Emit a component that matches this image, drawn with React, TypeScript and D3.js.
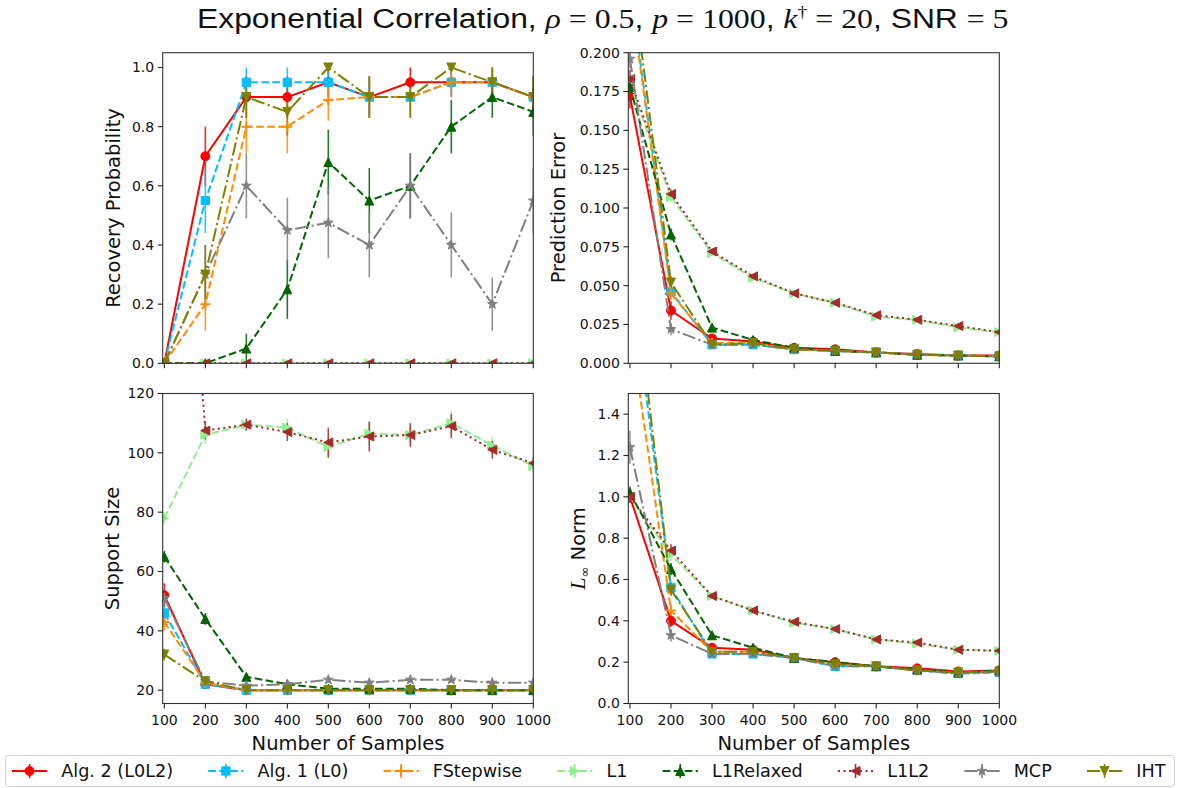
import React, { useEffect, useRef } from "react";
import * as d3 from "d3";

// ---------------- DATA ----------------
const samples = [100, 200, 300, 400, 500, 600, 700, 800, 900, 1000];
const methodNames = ["Alg. 2 (L0L2)", "Alg. 1 (L0)", "FStepwise", "L1", "L1Relaxed", "L1L2", "MCP", "IHT"];
const methodColors = ["#ff0000", "#00bfff", "#ff8c00", "#90ee90", "#006400", "#a52a2a", "#808080", "#808000"];
const methodDash = ["solid", "dashed", "dashed", "dashed", "dashed", "dotted", "dashdot", "dashdot"];
const methodMarkers = ["circle", "square", "plus", "triRight", "triUp", "triLeft", "star", "triDown"];

// Recovery probability
const recL0L2 = [0, 0.70, 0.90, 0.90, 0.95, 0.90, 0.95, 0.95, 0.95, 0.90];
const recL0 = [0, 0.55, 0.95, 0.95, 0.95, 0.90, 0.90, 0.95, 0.95, 0.90];
const recFS = [0, 0.20, 0.80, 0.80, 0.89, 0.90, 0.90, 0.95, 0.95, 0.90];
const recL1 = [0, 0, 0, 0, 0, 0, 0, 0, 0, 0];
const recL1R = [0, 0, 0.05, 0.25, 0.68, 0.55, 0.60, 0.80, 0.90, 0.85];
const recL1L2 = [0, 0, 0, 0, 0, 0, 0, 0, 0, 0];
const recMCP = [0, 0.30, 0.60, 0.45, 0.475, 0.40, 0.60, 0.40, 0.20, 0.55];
const recIHT = [0, 0.30, 0.90, 0.85, 1.00, 0.90, 0.90, 1.00, 0.95, 0.90];
const recErrL0L2 = [0, 0.10, 0.07, 0.07, 0.05, 0.07, 0.05, 0.05, 0.05, 0.07];
const recErrL0 = [0, 0.11, 0.05, 0.05, 0.05, 0.07, 0.07, 0.05, 0.05, 0.07];
const recErrFS = [0, 0.09, 0.09, 0.09, 0.07, 0.07, 0.07, 0.05, 0.05, 0.07];
const recErrL1 = [0, 0, 0, 0, 0, 0, 0, 0, 0, 0];
const recErrL1R = [0, 0, 0.05, 0.10, 0.11, 0.11, 0.11, 0.09, 0.07, 0.08];
const recErrL1L2 = [0, 0, 0, 0, 0, 0, 0, 0, 0, 0];
const recErrMCP = [0, 0.10, 0.11, 0.11, 0.12, 0.11, 0.11, 0.11, 0.09, 0.11];
const recErrIHT = [0, 0.10, 0.07, 0.08, 0, 0.07, 0.07, 0, 0.05, 0.07];

// Prediction error
const peL0L2 = [0.172, 0.034, 0.016, 0.014, 0.010, 0.009, 0.007, 0.006, 0.005, 0.005];
const peL0 = [0.245, 0.046, 0.012, 0.012, 0.009, 0.008, 0.007, 0.0055, 0.005, 0.0045];
const peFS = [0.240, 0.045, 0.013, 0.013, 0.009, 0.008, 0.007, 0.0055, 0.005, 0.0045];
const peL1 = [0.180, 0.107, 0.071, 0.055, 0.045, 0.039, 0.030, 0.028, 0.023, 0.020];
const peL1R = [0.178, 0.083, 0.023, 0.015, 0.010, 0.008, 0.007, 0.0055, 0.005, 0.0045];
const peL1L2 = [0.183, 0.109, 0.072, 0.056, 0.045, 0.039, 0.031, 0.028, 0.024, 0.020];
const peMCP = [0.196, 0.022, 0.012, 0.012, 0.009, 0.008, 0.007, 0.0055, 0.005, 0.0045];
const peIHT = [0.260, 0.052, 0.012, 0.013, 0.009, 0.008, 0.007, 0.0055, 0.005, 0.0045];
const peErrL0L2 = [0.008, 0.006, 0.001, 0.001, 0.001, 0.0005, 0.0005, 0.0005, 0.0003, 0.0003];
const peErrL1 = [0.006, 0.003, 0.002, 0.001, 0.001, 0.001, 0.001, 0.001, 0.001, 0.001];
const peErrSmall = [0.006, 0.004, 0.001, 0.001, 0.0005, 0.0005, 0.0005, 0.0003, 0.0003, 0.0003];

// Support size
const ssL0L2 = [52, 22, 20, 20, 20, 20, 20, 20, 20, 20];
const ssL0 = [46, 22, 20, 20, 20, 20, 20, 20, 20, 20];
const ssFS = [43, 22.5, 20, 20, 20, 20, 20, 20, 20, 20];
const ssL1 = [78, 106, 109.5, 108.5, 102, 106.5, 106, 110, 102.5, 95.5];
const ssL1R = [65, 44, 24.5, 22, 20.5, 20.5, 20.5, 20, 20, 20];
const ssL1L2 = [290, 107.5, 109.5, 107, 103.5, 105.5, 106, 109, 101, 96.5];
const ssMCP = [51, 23, 21.5, 22, 23.5, 22.5, 23.5, 23.5, 22.5, 22.5];
const ssIHT = [32, 23, 20, 20, 20, 20, 20, 20, 20, 20];
const ssErrL0L2 = [4, 1, 0, 0, 0, 0, 0, 0, 0, 0];
const ssErrL0 = [3, 1, 0, 0, 0, 0, 0, 0, 0, 0];
const ssErrFS = [3, 1, 0, 0, 0, 0, 0, 0, 0, 0];
const ssErrL1 = [2, 3, 2, 3, 4, 4, 3, 4, 3, 2];
const ssErrL1R = [2, 2, 1, 0.5, 0.5, 0.5, 0.5, 0.3, 0.3, 0.3];
const ssErrL1L2 = [0, 3, 2, 3, 5, 5, 4, 4, 3, 2];
const ssErrMCP = [3, 1, 1, 1, 1, 1, 1, 1, 1, 1];
const ssErrIHT = [2, 1, 0, 0, 0, 0, 0, 0, 0, 0];

// L-infinity norm
const liL0L2 = [1.0, 0.40, 0.27, 0.26, 0.22, 0.20, 0.18, 0.17, 0.155, 0.16];
const liL0 = [2.10, 0.56, 0.24, 0.24, 0.22, 0.18, 0.18, 0.16, 0.145, 0.15];
const liFS = [1.83, 0.45, 0.25, 0.25, 0.22, 0.19, 0.18, 0.16, 0.15, 0.155];
const liL1 = [1.0, 0.72, 0.52, 0.45, 0.39, 0.36, 0.31, 0.29, 0.26, 0.255];
const liL1R = [1.02, 0.65, 0.33, 0.27, 0.22, 0.20, 0.18, 0.165, 0.15, 0.16];
const liL1L2 = [1.0, 0.74, 0.52, 0.45, 0.395, 0.36, 0.31, 0.295, 0.26, 0.255];
const liMCP = [1.24, 0.33, 0.24, 0.24, 0.22, 0.18, 0.18, 0.16, 0.145, 0.155];
const liIHT = [2.25, 0.55, 0.25, 0.25, 0.22, 0.19, 0.18, 0.16, 0.15, 0.155];
const liErrMCP = [0.08, 0.03, 0.01, 0.01, 0.01, 0.01, 0.01, 0.01, 0.01, 0.01];
const liErrL0L2 = [0.02, 0.03, 0.01, 0.01, 0.01, 0.01, 0.01, 0.01, 0.01, 0.01];
const liErrSmall = [0.03, 0.03, 0.01, 0.01, 0.01, 0.01, 0.01, 0.01, 0.01, 0.01];

// Tick labels
const xTicks = [100, 200, 300, 400, 500, 600, 700, 800, 900, 1000];
const recTicks = [0, 0.2, 0.4, 0.6, 0.8, 1.0];
const peTicks = [0, 0.025, 0.05, 0.075, 0.1, 0.125, 0.15, 0.175, 0.2];
const ssTicks = [20, 40, 60, 80, 100, 120];
const liTicks = [0, 0.2, 0.4, 0.6, 0.8, 1.0, 1.2, 1.4];

// ---------------- LAYOUT ----------------
const W = 1177;
const H = 788;
const X_DOMAIN: [number, number] = [96, 1000];
const LEFT = { l: 162.7, r: 533.3 };
const RIGHT = { l: 628.3, r: 999.3 };
const TOP = { t: 52.7, b: 363.3 };
const BOT = { t: 393.5, b: 703.5 };

const panels = [
  {
    id: "rec", box: { ...LEFT, ...TOP }, yDomain: [0, 1.05], ticks: recTicks, fmt: ".1f",
    label: "Recovery Probability", labelX: 113, xLabels: false,
    values: [recL0L2, recL0, recFS, recL1, recL1R, recL1L2, recMCP, recIHT],
    errs: [recErrL0L2, recErrL0, recErrFS, recErrL1, recErrL1R, recErrL1L2, recErrMCP, recErrIHT],
  },
  {
    id: "pe", box: { ...RIGHT, ...TOP }, yDomain: [0, 0.2], ticks: peTicks, fmt: ".3f",
    label: "Prediction Error", labelX: 558, xLabels: false,
    values: [peL0L2, peL0, peFS, peL1, peL1R, peL1L2, peMCP, peIHT],
    errs: [peErrL0L2, peErrSmall, peErrSmall, peErrL1, peErrSmall, peErrL1, peErrSmall, peErrSmall],
  },
  {
    id: "ss", box: { ...LEFT, ...BOT }, yDomain: [15.5, 120], ticks: ssTicks, fmt: "d",
    label: "Support Size", labelX: 112, xLabels: true,
    values: [ssL0L2, ssL0, ssFS, ssL1, ssL1R, ssL1L2, ssMCP, ssIHT],
    errs: [ssErrL0L2, ssErrL0, ssErrFS, ssErrL1, ssErrL1R, ssErrL1L2, ssErrMCP, ssErrIHT],
  },
  {
    id: "li", box: { ...RIGHT, ...BOT }, yDomain: [0, 1.5], ticks: liTicks, fmt: ".1f",
    label: "Linf", labelX: 578, xLabels: true,
    values: [liL0L2, liL0, liFS, liL1, liL1R, liL1L2, liMCP, liIHT],
    errs: [liErrL0L2, liErrSmall, liErrSmall, liErrSmall, liErrSmall, liErrSmall, liErrMCP, liErrSmall],
  },
];

const DASH: Record<string, string | null> = {
  solid: null,
  dashed: "7.7,3.3",
  dotted: "2.1,3.4",
  dashdot: "13.3,3.3,2.1,3.3",
};

const SANS = "DejaVu Sans, sans-serif";
const MARK = 9;

function markerPath(type: string, s: number): string {
  const r = s / 2;
  switch (type) {
    case "circle":
      return `M${r},0A${r},${r} 0 1,1 ${-r},0A${r},${r} 0 1,1 ${r},0Z`;
    case "square": {
      const h = r * 0.92;
      return `M${-h},${-h}H${h}V${h}H${-h}Z`;
    }
    case "plus":
      return `M${-r - 0.5},0H${r + 0.5}M0,${-r - 0.5}V${r + 0.5}`;
    case "triUp":
      return `M0,${-r}L${r},${r}L${-r},${r}Z`;
    case "triDown":
      return `M0,${r}L${r},${-r}L${-r},${-r}Z`;
    case "triLeft":
      return `M${-r},0L${r},${-r}L${r},${r}Z`;
    case "triRight":
      return `M${r},0L${-r},${-r}L${-r},${r}Z`;
    case "star": {
      const ro = r * 1.15;
      const ri = ro * 0.382;
      const pts: string[] = [];
      for (let i = 0; i < 10; i++) {
        const a = -Math.PI / 2 + (i * Math.PI) / 5;
        const rr = i % 2 === 0 ? ro : ri;
        pts.push(`${(rr * Math.cos(a)).toFixed(2)},${(rr * Math.sin(a)).toFixed(2)}`);
      }
      return "M" + pts.join("L") + "Z";
    }
  }
  return "";
}

function drawMarker(g: any, type: string, color: string, x: number, y: number) {
  const p = g.append("path").attr("d", markerPath(type, MARK)).attr("transform", `translate(${x},${y})`);
  if (type === "plus") {
    p.attr("fill", "none").attr("stroke", color).attr("stroke-width", 2);
  } else {
    p.attr("fill", color).attr("stroke", color).attr("stroke-width", 1).attr("stroke-linejoin", "miter");
  }
}

function draw(svgEl: SVGSVGElement) {
  const svg = d3.select(svgEl);
  svg.selectAll("*").remove();
  svg.append("rect").attr("width", W).attr("height", H).attr("fill", "#fff");
  const defs = svg.append("defs");

  panels.forEach((p) => {
    const { l, r, t, b } = p.box;
    const x = d3.scaleLinear().domain(X_DOMAIN).range([l, r]);
    const y = d3.scaleLinear().domain(p.yDomain).range([b, t]);
    const clipId = `clip-${p.id}`;
    defs.append("clipPath").attr("id", clipId).append("rect")
      .attr("x", l).attr("y", t).attr("width", r - l).attr("height", b - t);

    const g = svg.append("g");
    const plot = g.append("g").attr("clip-path", `url(#${clipId})`);

    // error bars (below lines)
    p.values.forEach((vals, mi) => {
      const errs = p.errs[mi];
      samples.forEach((s, i) => {
        if (!errs[i]) return;
        plot.append("line")
          .attr("x1", x(s)).attr("x2", x(s))
          .attr("y1", y(vals[i] - errs[i])).attr("y2", y(vals[i] + errs[i]))
          .attr("stroke", methodColors[mi]).attr("stroke-width", 1.6).attr("opacity", 0.85);
      });
    });

    // lines + markers
    const line = d3.line<number>().x((_, i) => x(samples[i])).y((v) => y(v));
    p.values.forEach((vals, mi) => {
      const path = plot.append("path").attr("d", line(vals) as string)
        .attr("fill", "none").attr("stroke", methodColors[mi]).attr("stroke-width", 2)
        .attr("stroke-linejoin", "round");
      const dash = DASH[methodDash[mi]];
      if (dash) path.attr("stroke-dasharray", dash);
      vals.forEach((v, i) => drawMarker(plot, methodMarkers[mi], methodColors[mi], x(samples[i]), y(v)));
    });

    // spines
    g.append("rect").attr("x", l).attr("y", t).attr("width", r - l).attr("height", b - t)
      .attr("fill", "none").attr("stroke", "#333").attr("stroke-width", 1.1);

    // y ticks
    const fmt = d3.format(p.fmt);
    p.ticks.forEach((tv) => {
      const yy = y(tv);
      g.append("line").attr("x1", l - 4.9).attr("x2", l).attr("y1", yy).attr("y2", yy)
        .attr("stroke", "#222").attr("stroke-width", 1.1);
      g.append("text").attr("x", l - 8.5).attr("y", yy).attr("dy", "0.35em")
        .attr("text-anchor", "end").attr("font-family", SANS).attr("font-size", 14)
        .attr("fill", "#111").text(fmt(tv));
    });
    // x ticks
    xTicks.forEach((tv) => {
      const xx = x(tv);
      g.append("line").attr("x1", xx).attr("x2", xx).attr("y1", b).attr("y2", b + 4.9)
        .attr("stroke", "#222").attr("stroke-width", 1.1);
      if (p.xLabels) {
        g.append("text").attr("x", xx).attr("y", b + 21.5)
          .attr("text-anchor", "middle").attr("font-family", SANS).attr("font-size", 14)
          .attr("fill", "#111").text(String(tv));
      }
    });
    if (p.xLabels) {
      g.append("text").attr("x", (l + r) / 2).attr("y", b + 46)
        .attr("text-anchor", "middle").attr("font-family", SANS).attr("font-size", 19.5)
        .attr("fill", "#111").text("Number of Samples");
    }

    // y label
    const yl = g.append("text")
      .attr("transform", `translate(${p.labelX},${(t + b) / 2}) rotate(-90)`)
      .attr("dy", "0.36em").attr("text-anchor", "middle")
      .attr("font-family", SANS).attr("font-size", 19.5).attr("fill", "#111");
    if (p.label === "Linf") {
      yl.append("tspan").attr("font-family", "Liberation Serif, serif").attr("font-style", "italic").attr("font-size", 22).text("L");
      yl.append("tspan").attr("font-size", 13).attr("dy", 4).text("∞");
      yl.append("tspan").attr("dy", -4).text(" Norm");
    } else {
      yl.text(p.label);
    }
  });

  // Title
  const title = svg.append("text").attr("x", 0).attr("y", 0).attr("font-size", 26).attr("fill", "#111");
  const SS = "Liberation Sans, Arial, sans-serif";
  const SER = "Liberation Serif, serif";
  const parts: [string, string, boolean][] = [
    ["Exponential Correlation, ", SS, false],
    ["ρ", SER, true], [" = 0.5", SER, false], [", ", SS, false],
    ["p", SER, true], [" = 1000", SER, false], [", ", SS, false],
    ["k", SER, true],
  ];
  parts.forEach(([txt, fam, it]) => {
    const ts = title.append("tspan").attr("font-family", fam).text(txt);
    if (it) ts.attr("font-style", "italic");
  });
  title.append("tspan").attr("font-family", SER).attr("font-size", 16).attr("dy", -10).text("†");
  title.append("tspan").attr("font-family", SER).attr("dy", 10).text(" = 20");
  title.append("tspan").attr("font-family", SS).text(", SNR ");
  title.append("tspan").attr("font-family", SER).text("= 5");
  const bb = (title.node() as SVGTextElement).getBBox();
  const targetW = 812;
  const sc = targetW / bb.width;
  const cx = 603;
  title.attr("transform", `translate(${cx - (bb.width * sc) / 2 - bb.x * sc},28) scale(${sc},1.03)`);

  // Legend
  const leg = svg.append("g");
  leg.append("rect").attr("x", 5.5).attr("y", 755.5).attr("width", 1169).attr("height", 31).attr("rx", 3)
    .attr("fill", "#fff").attr("stroke", "#d0d0d0").attr("stroke-width", 1);
  const fs = 17.6;
  let cur = 12;
  const cy = 771;
  methodNames.forEach((name, mi) => {
    const hl = 2 * fs;
    const ln = leg.append("line").attr("x1", cur).attr("x2", cur + hl).attr("y1", cy).attr("y2", cy)
      .attr("stroke", methodColors[mi]).attr("stroke-width", 2);
    const dash = DASH[methodDash[mi]];
    if (dash) ln.attr("stroke-dasharray", dash);
    leg.append("line").attr("x1", cur + hl / 2).attr("x2", cur + hl / 2).attr("y1", cy - 7).attr("y2", cy + 7)
      .attr("stroke", methodColors[mi]).attr("stroke-width", 1.6);
    drawMarker(leg, methodMarkers[mi], methodColors[mi], cur + hl / 2, cy);
    const tx = cur + hl + 0.8 * fs;
    const t = leg.append("text").attr("x", tx).attr("y", cy).attr("dy", "0.36em")
      .attr("font-family", SANS).attr("font-size", fs).attr("fill", "#111").text(name);
    const tw = (t.node() as SVGTextElement).getComputedTextLength();
    cur = tx + tw + 2.0 * fs;
  });
}

export default function App() {
  const ref = useRef<SVGSVGElement>(null);
  useEffect(() => {
    if (ref.current) draw(ref.current);
  }, []);
  return (
    <svg
      ref={ref}
      width={W}
      height={H}
      style={{ position: "absolute", left: 0, top: 0, display: "block" }}
    />
  );
}
